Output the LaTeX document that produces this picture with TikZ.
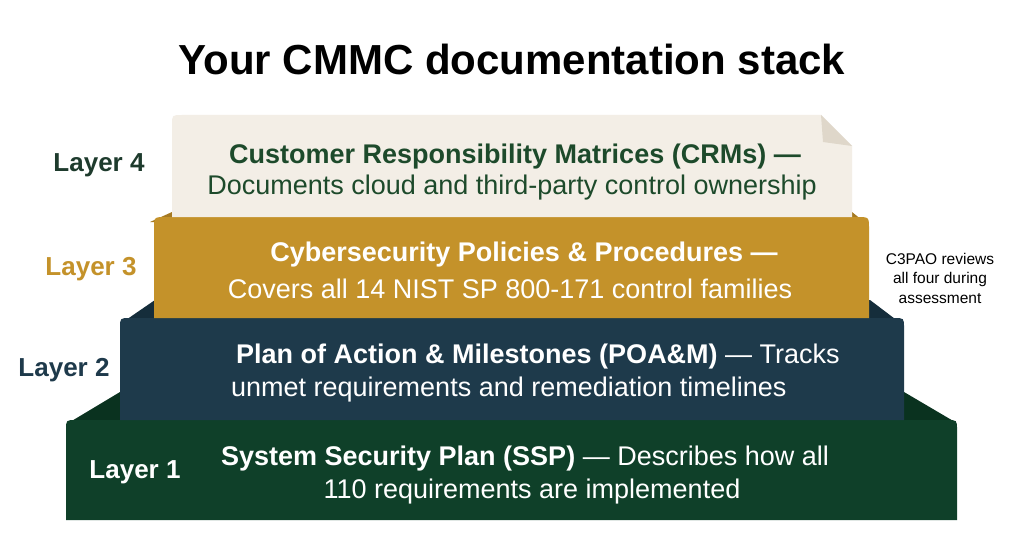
\documentclass[tikz,border=0pt]{standalone}
\usepackage{fontspec}
\setmainfont{Liberation Sans}
\definecolor{creamC}{HTML}{F3EEE6}
\definecolor{foldC}{HTML}{DFD7CA}
\definecolor{goldC}{HTML}{C4922A}
\definecolor{goldD}{HTML}{A67A22}
\definecolor{navyC}{HTML}{1E3A4B}
\definecolor{navyD}{HTML}{152D3B}
\definecolor{greenC}{HTML}{0F4029}
\definecolor{greenD}{HTML}{0A321F}
\definecolor{dkgreenT}{HTML}{1D4A2B}
\definecolor{lab4C}{HTML}{1E3B2D}
\tikzset{
  ltext/.style={inner sep=0pt, font=\fontsize{27}{31}\selectfont},
  btext/.style={inner sep=0pt, font=\fontsize{27}{31}\selectfont\bfseries},
  lablab/.style={inner sep=0pt, font=\fontsize{26}{30}\selectfont\bfseries},
  note/.style={inner sep=0pt, align=center, font=\fontsize{15.5}{19.5}\selectfont},
}
\begin{document}
\begin{tikzpicture}[x=1pt,y=-1pt]
\useasboundingbox (0,0) rectangle (1024,559);
\fill[white] (0,0) rectangle (1024,559);
% title
\node[inner sep=0pt, font=\fontsize{42}{48}\selectfont\bfseries] (title) at (512,59) {Your CMMC documentation stack};
% layer 1
\fill[greenD] (70,422) -- (120,392) -- (904,392) -- (955,422) -- cycle;
\fill[greenC] (66,520) -- (66,430) .. controls (66,420) .. (76,420) -- (947,420) .. controls (957,420) .. (957,430) -- (957,520) -- cycle;
% layer 2
\fill[navyD] (123,322) -- (155,300) -- (870,300) -- (903,325) -- cycle;
\fill[navyC] (120,420) -- (120,328) .. controls (120,318) .. (130,318) -- (894,318) .. controls (904,318) .. (904,328) -- (904,420) -- cycle;
% layer 3
\fill[goldD] (150,222) -- (172,212) -- (852,212) -- (868,225) -- cycle;
\fill[goldC] (154,318) -- (154,229) .. controls (154,217) .. (166,217) -- (857,217) .. controls (869,217) .. (869,229) -- (869,318) -- cycle;
% layer 4
\fill[creamC] (172,217) -- (172,125) .. controls (172,115) .. (182,115) -- (821,115) -- (852,146) -- (852,217) -- cycle;
\fill[foldC] (821,115) -- (823,142) -- (852,146) -- cycle;
% texts layer 4
\node[btext, text=dkgreenT] (l4a) at (515,157) {Customer Responsibility Matrices (CRMs) —};
\node[ltext, text=dkgreenT] (l4b) at (512,188) {Documents cloud and third-party control ownership};
% layer 3
\node[btext, text=white] (l3a) at (524,255) {Cybersecurity Policies \& Procedures —};
\node[ltext, text=white] (l3b) at (510,289) {Covers all 14 NIST SP 800-171 control families};
% layer 2
\node[ltext, text=white, anchor=west] (l2a) at (236,357) {\textbf{Plan of Action \& Milestones (POA\&M)} — Tracks};
\node[ltext, text=white, anchor=west] (l2b) at (231,390) {unmet requirements and remediation timelines};
% layer 1
\node[ltext, text=white] (l1a) at (525,459) {\textbf{System Security Plan (SSP)} — Describes how all};
\node[ltext, text=white] (l1b) at (532,492) {110 requirements are implemented};
% labels
\node[lablab, text=lab4C] (lab4) at (99,165) {Layer 4};
\node[lablab, text=goldC] (lab3) at (91,269) {Layer 3};
\node[lablab, text=navyC] (lab2) at (64,370) {Layer 2};
\node[lablab, text=white] (lab1) at (135,472) {Layer 1};
% note
\node[note] (note) at (940,278) {C3PAO reviews\\all four during\\assessment};
\end{tikzpicture}
\end{document}
